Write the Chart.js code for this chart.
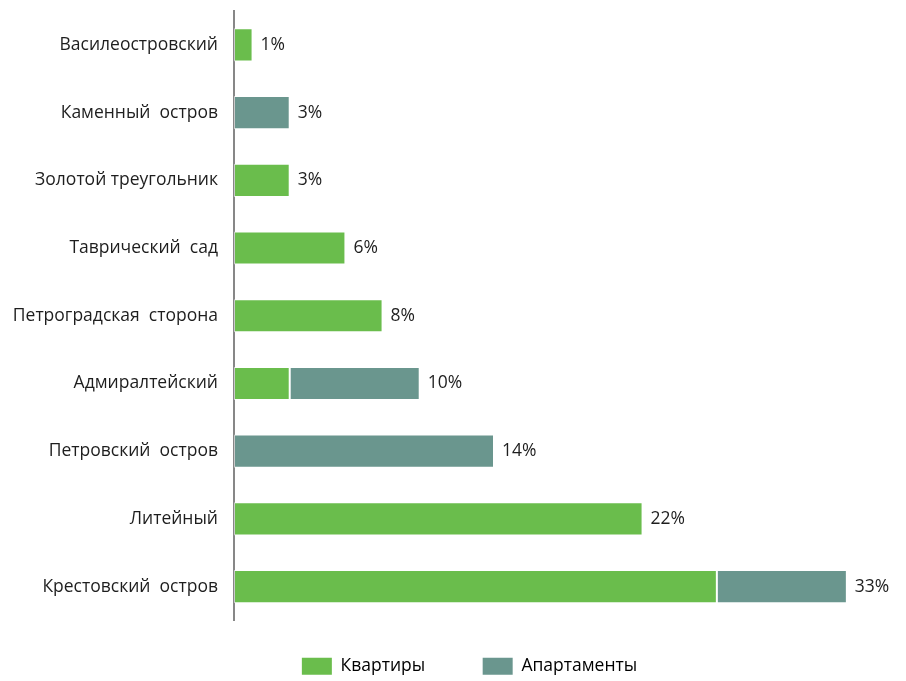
<!DOCTYPE html>
<html lang="ru">
<head>
<meta charset="utf-8">
<title>Районы</title>
<script src="https://cdn.jsdelivr.net/npm/chart.js@4.4.1/dist/chart.umd.min.js"></script>
<style>
    html, body { margin: 0; padding: 0; background: #fff; }
    #wrap { width: 906px; height: 681px; }
</style>
</head>
<body>
<div id="wrap"><canvas id="districtChart"></canvas></div>
<script>
// Data
const districts = ['Василеостровский', 'Каменный  остров', 'Золотой треугольник', 'Таврический  сад',
    'Петроградская  сторона', 'Адмиралтейский', 'Петровский  остров', 'Литейный', 'Крестовский  остров'];
const flats = [1, null, 3, 6, 8, 3, null, 22, 26];
const apartments = [null, 3, null, null, null, 7, 14, null, 7];
const seriesNames = ['Квартиры', 'Апартаменты'];

const FONT = '"Open Sans", "Noto Sans", sans-serif';
const FONT_SIZE = 17.5;

// total share label after the last segment of every row
const totalLabels = {
    id: 'totalLabels',
    afterLayout(chart) {
        // nudge the legend row right and down
        chart.legend.left += 51;
        chart.legend.top += 4;
    },
    afterDatasetsDraw(chart) {
        const ctx = chart.ctx;
        ctx.save();
        ctx.font = FONT_SIZE + 'px ' + FONT;
        ctx.fillStyle = '#1e1e1e';
        ctx.textAlign = 'left';
        ctx.textBaseline = 'middle';
        districts.forEach(function (name, i) {
            let end = null, y = null, total = 0;
            chart.data.datasets.forEach(function (ds, d) {
                const v = ds.data[i];
                if (v === null) return;
                total += v;
                const bar = chart.getDatasetMeta(d).data[i];
                if (end === null || bar.x > end) { end = bar.x; y = bar.y; }
            });
            ctx.fillText(total + '%', end + 8, y);
        });
        ctx.restore();
    }
};

const Districts = document.getElementById('districtChart');
const districtChart = new Chart(Districts, {
    type: 'bar',
    data: {
        labels: districts,
        datasets: [{
            label: seriesNames[0],
            data: flats,
            backgroundColor: '#6abd4c',
            borderColor: 'rgba(255, 255, 255, 0.55)',
            borderWidth: 1,
            borderSkipped: false
        }, {
            label: seriesNames[1],
            data: apartments,
            backgroundColor: '#6a968e',
            borderColor: 'rgba(255, 255, 255, 0.55)',
            borderWidth: 1,
            borderSkipped: false
        }]
    },
    options: {
        indexAxis: 'y',
        responsive: true,
        maintainAspectRatio: false,
        animation: false,
        barPercentage: 0.49,
        categoryPercentage: 1,
        layout: { padding: { left: 4, right: 22, top: 11, bottom: 0 } },
        scales: {
            x: {
                stacked: true,
                min: 0,
                max: 35,
                ticks: { display: false },
                grid: { display: false },
                border: { display: false },
                afterFit: function (scale) { scale.height = 31; }
            },
            y: {
                stacked: true,
                grid: { display: false, drawTicks: true, tickLength: 16 },
                border: { display: true, color: '#878787', width: 2 },
                ticks: { color: '#1e1e1e', padding: 0, font: { family: FONT, size: FONT_SIZE } },
                afterFit: function (scale) { scale.width = 230; }
            }
        },
        plugins: {
            tooltip: { enabled: false },
            legend: {
                position: 'bottom',
                labels: {
                    boxWidth: 30,
                    boxHeight: 17,
                    padding: 2,
                    color: '#1e1e1e',
                    font: { family: FONT, size: FONT_SIZE },
                    generateLabels: function (chart) {
                        return chart.data.datasets.map(function (ds, i) {
                            return {
                                // trailing spaces keep the two items apart
                                text: i === 0 ? ds.label + '\u2003\u2003\u2003\u2009' : ds.label,
                                fillStyle: ds.backgroundColor,
                                strokeStyle: ds.backgroundColor,
                                lineWidth: 0,
                                datasetIndex: i
                            };
                        });
                    }
                }
            }
        }
    },
    plugins: [totalLabels]
});
</script>
</body>
</html>
